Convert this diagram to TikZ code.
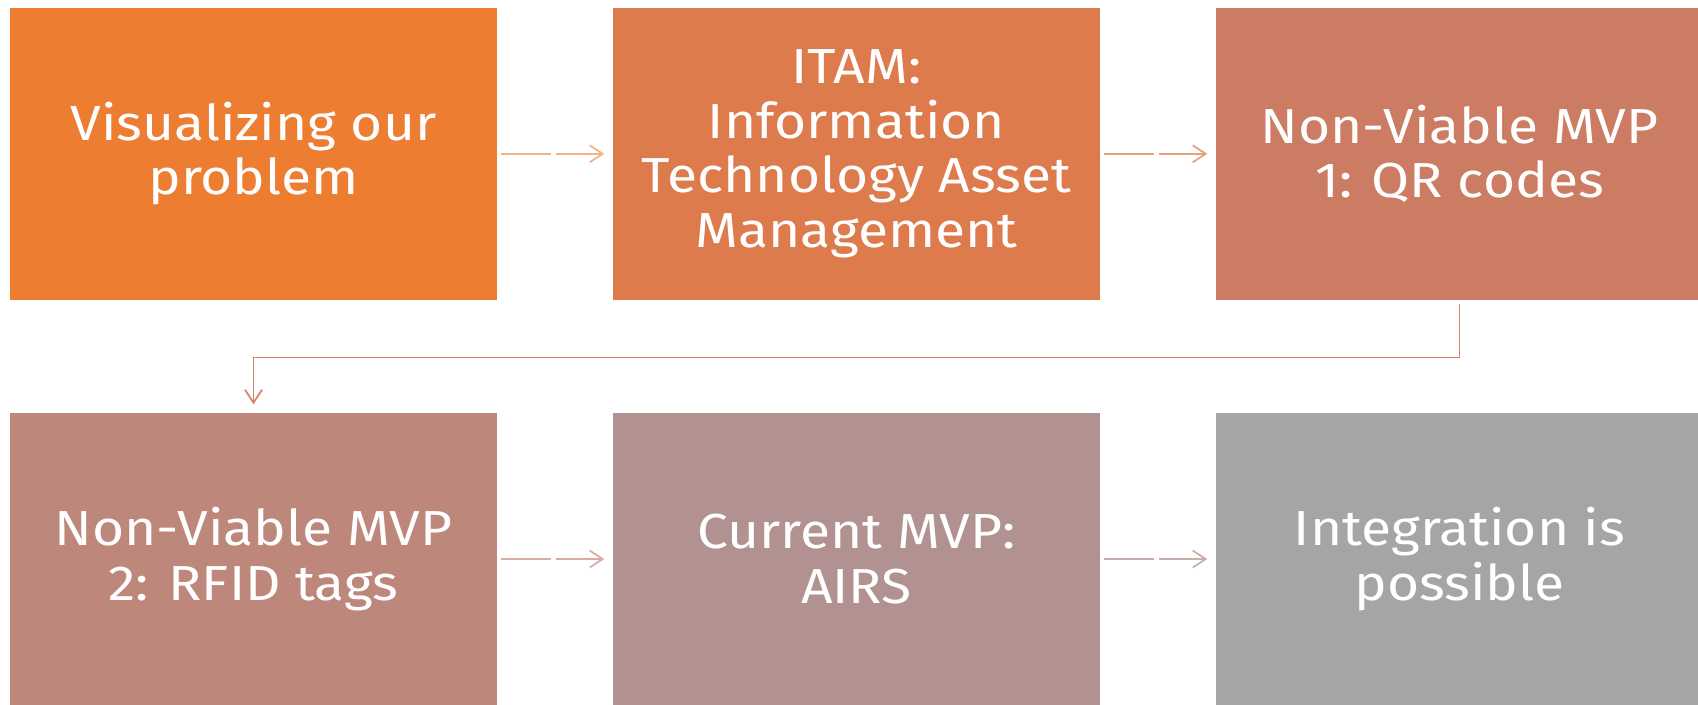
\documentclass[tikz,border=0pt]{standalone}
\usepackage{fontspec}
\setmainfont{Fira Sans}
\newfontfamily\stagefont[FakeStretch=1.12]{Fira Sans}
\usetikzlibrary{arrows.meta}
\usetikzlibrary{calc}

\definecolor{stageA}{HTML}{ED7D31}
\definecolor{stageB}{HTML}{DD7B4D}
\definecolor{stageC}{HTML}{CD7C64}
\definecolor{stageD}{HTML}{BD877B}
\definecolor{stageE}{HTML}{B19290}
\definecolor{stageF}{HTML}{A5A5A5}
\definecolor{linkA}{HTML}{F4B183}
\definecolor{linkB}{HTML}{E8A084}
\definecolor{linkC}{HTML}{D9836A}
\definecolor{linkD}{HTML}{D6ACA4}
\definecolor{linkE}{HTML}{C8AFAC}

\begin{document}
\begin{tikzpicture}[
        stage_style/.style={rectangle,minimum width=4.87cm,minimum height=2.92cm,inner sep=0pt,
            text=white,align=center,font=\stagefont\fontsize{14}{15.5}\selectfont},
        link_style/.style={line width=0.5pt,shorten <=0.03cm,shorten >=0.08cm,
            -{Straight Barb[length=1.3mm,width=1.7mm]},
            dash pattern=on 0.5cm off 0.05cm on 3cm off 0cm},
        turn_style/.style={line width=0.5pt,shorten <=0.03cm,shorten >=0.08cm,
            -{Straight Barb[length=1.3mm,width=1.7mm]}}]

        \useasboundingbox (0,0) rectangle (16.98,-7.04);

        \node [stage_style,fill=stageA](s1) at (2.535,-1.538) {Visualizing our\\problem};

        \node [stage_style,fill=stageB](s2) at (8.565,-1.538) {ITAM:\\Information\\Technology Asset\\Management};

        \node [stage_style,fill=stageC](s3) at (14.595,-1.538) {Non-Viable MVP\\1: QR codes};

        \node [stage_style,fill=stageD](s4) at (2.535,-5.59) {Non-Viable MVP\\2: RFID tags};

        \node [stage_style,fill=stageE](s5) at (8.565,-5.59) {Current MVP:\\AIRS};

        \node [stage_style,fill=stageF](s6) at (14.595,-5.59) {Integration is\\possible};

        \draw [link_style,draw=linkA] (s1) -- (s2);

        \draw [link_style,draw=linkB] (s2) -- (s3);

        \draw [turn_style,draw=linkC] (s3.south) -- ++(0,-0.57) -| (s4.north);

        \draw [link_style,draw=linkD] (s4) -- (s5);

        \draw [link_style,draw=linkE] (s5) -- (s6);

        \end{tikzpicture}
\end{document}
